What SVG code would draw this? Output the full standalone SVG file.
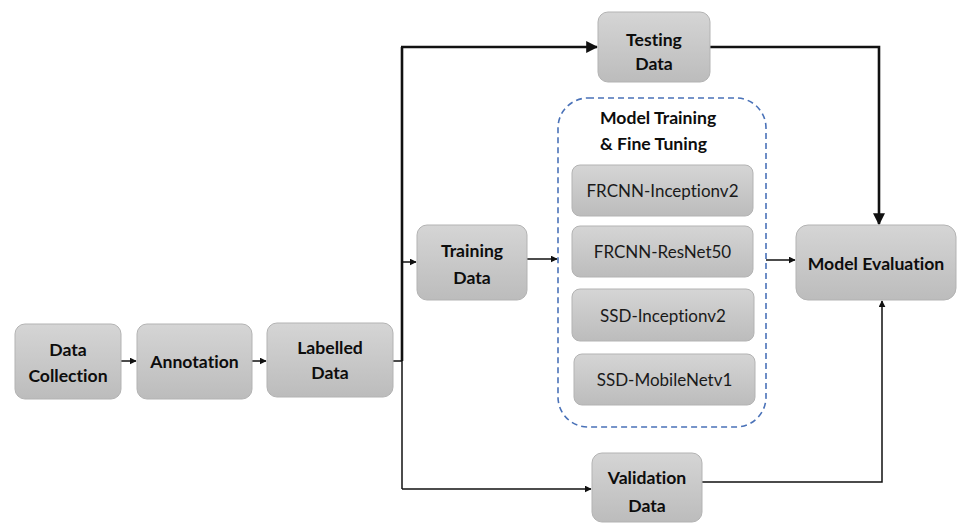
<svg xmlns="http://www.w3.org/2000/svg" width="965" height="524" viewBox="0 0 965 524">
<defs>
<linearGradient id="g" x1="0" y1="0" x2="0" y2="1">
<stop offset="0" stop-color="#d5d5d5"/>
<stop offset="1" stop-color="#bcbcbc"/>
</linearGradient>
<marker id="ah" viewBox="0 0 10 10" refX="9" refY="5" markerWidth="7" markerHeight="7" markerUnits="userSpaceOnUse" orient="auto">
<path d="M0,0 L10,5 L0,10 z" fill="#111"/>
</marker>
<marker id="ahb" viewBox="0 0 10 10" refX="9" refY="5" markerWidth="12" markerHeight="12" markerUnits="userSpaceOnUse" orient="auto">
<path d="M0,0 L10,5 L0,10 z" fill="#111"/>
</marker>
</defs>
<style>
.box{fill:url(#g);stroke:#b3b3b3;stroke-width:1}
.lb{font-family:Lato,"Liberation Sans",sans-serif;font-weight:bold;font-size:17.6px;fill:#0d0d0d;text-anchor:middle;dominant-baseline:central;font-variant-ligatures:none}
.lr{font-family:Lato,"Liberation Sans",sans-serif;font-size:17px;fill:#1a1a1a;text-anchor:middle;dominant-baseline:central;font-variant-ligatures:none}
.thin{fill:none;stroke:#111;stroke-width:1.5}
.thick{fill:none;stroke:#111;stroke-width:2.6}
.dash{fill:none;stroke:#4a72b8;stroke-width:1.6;stroke-dasharray:6,4}
</style>
<rect width="965" height="524" fill="#fff"/>
<g id="connectors">
<path class="thin" d="M121,361 H136" marker-end="url(#ah)"/>
<path class="thin" d="M252,361 H266" marker-end="url(#ah)"/>
<path class="thin" d="M393,361 H402"/>
<path class="thick" d="M402,361 V47"/>
<path class="thin" d="M402,361 V489"/>
<path class="thick" d="M401,47 H597" marker-end="url(#ahb)"/>
<path class="thin" d="M402,262 H416" marker-end="url(#ah)"/>
<path class="thin" d="M527,259 H557" marker-end="url(#ah)"/>
<path class="thin" d="M766,260 H795" marker-end="url(#ah)"/>
<path class="thick" d="M710,47 H879 V224" marker-end="url(#ahb)"/>
<path class="thin" d="M402,489 H591" marker-end="url(#ah)"/>
<path class="thin" d="M702,482 H882 V301" marker-end="url(#ah)"/>
</g>
<g id="data-collection">
<rect class="box" x="15" y="324" width="106" height="75" rx="10"/>
<text class="lb" x="68" y="349">Data</text>
<text class="lb" x="68" y="375">Collection</text>
</g>
<g id="annotation">
<rect class="box" x="137" y="324" width="115" height="75" rx="10"/>
<text class="lb" x="194.5" y="361">Annotation</text>
</g>
<g id="labelled-data">
<rect class="box" x="267" y="323" width="126" height="74" rx="10"/>
<text class="lb" x="330" y="347">Labelled</text>
<text class="lb" x="330" y="372">Data</text>
</g>
<g id="testing-data">
<rect class="box" x="598" y="12" width="112" height="70" rx="10"/>
<text class="lb" x="654" y="39">Testing</text>
<text class="lb" x="654" y="63">Data</text>
</g>
<g id="training-data">
<rect class="box" x="417" y="225" width="110" height="75" rx="10"/>
<text class="lb" x="472" y="250">Training</text>
<text class="lb" x="472" y="277">Data</text>
</g>
<g id="model-training">
<rect class="dash" x="558" y="98" width="208" height="329" rx="30"/>
<text class="lb" x="600" y="117" style="text-anchor:start">Model Training</text>
<text class="lb" x="600" y="143" style="text-anchor:start">&amp; Fine Tuning</text>
</g>
<g id="frcnn-inceptionv2">
<rect class="box" x="572" y="165" width="181" height="51" rx="8"/>
<text class="lr" x="662.5" y="190.5">FRCNN-Inceptionv2</text>
</g>
<g id="frcnn-resnet50">
<rect class="box" x="572" y="226" width="181" height="51" rx="8"/>
<text class="lr" x="662.5" y="251.5">FRCNN-ResNet50</text>
</g>
<g id="ssd-inceptionv2">
<rect class="box" x="572" y="289" width="182" height="52" rx="8"/>
<text class="lr" x="663" y="315">SSD-Inceptionv2</text>
</g>
<g id="ssd-mobilenetv1">
<rect class="box" x="574" y="354" width="181" height="51" rx="8"/>
<text class="lr" x="664.5" y="379.5">SSD-MobileNetv1</text>
</g>
<g id="model-evaluation">
<rect class="box" x="796" y="225" width="160" height="75" rx="12"/>
<text class="lb" x="876" y="263">Model Evaluation</text>
</g>
<g id="validation-data">
<rect class="box" x="592" y="453" width="110" height="69" rx="10"/>
<text class="lb" x="647" y="477">Validation</text>
<text class="lb" x="647" y="505">Data</text>
</g>
</svg>
